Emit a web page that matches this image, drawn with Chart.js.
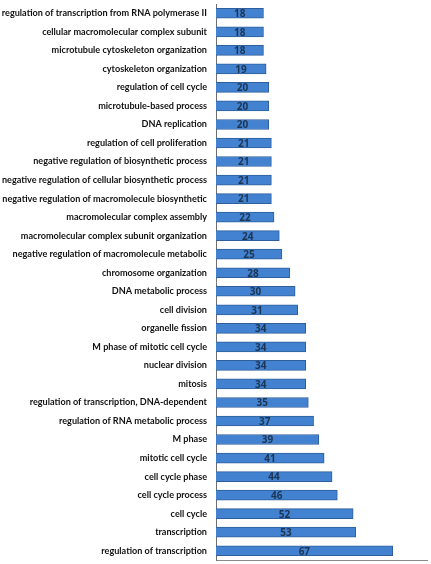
<!DOCTYPE html>
<html>
<head>
<meta charset="utf-8">
<script src="https://cdn.jsdelivr.net/npm/chart.js@4.4.0/dist/chart.umd.min.js"></script>
<style>
  html, body { margin: 0; padding: 0; background: #fff; }
  canvas { display: block; }
</style>
</head>
<body>
<canvas id="myChart" width="431" height="564"></canvas>
<script>
// GO terms, top to bottom
const terms = [
    "regulation of transcription from RNA polymerase II",
    "cellular macromolecular complex subunit",
    "microtubule cytoskeleton organization",
    "cytoskeleton organization",
    "regulation of cell cycle",
    "microtubule-based process",
    "DNA replication",
    "regulation of cell proliferation",
    "negative regulation of biosynthetic process",
    "negative regulation of cellular biosynthetic process",
    "negative regulation of macromolecule biosynthetic",
    "macromolecular complex assembly",
    "macromolecular complex subunit organization",
    "negative regulation of macromolecule metabolic",
    "chromosome organization",
    "DNA metabolic process",
    "cell division",
    "organelle fission",
    "M phase of mitotic cell cycle",
    "nuclear division",
    "mitosis",
    "regulation of transcription, DNA-dependent",
    "regulation of RNA metabolic process",
    "M phase",
    "mitotic cell cycle",
    "cell cycle phase",
    "cell cycle process",
    "cell cycle",
    "transcription",
    "regulation of transcription"
];

// gene counts
const counts = [18, 18, 18, 19, 20, 20, 20, 21, 21, 21, 21, 22, 24, 25, 28,
    30, 31, 34, 34, 34, 34, 35, 37, 39, 41, 44, 46, 52, 53, 67];

const xMax = 80;

// draw the count in the middle of each bar
const barValues = {
    id: "barValues",
    afterDatasetsDraw(chart) {
        const ctx = chart.ctx;
        const meta = chart.getDatasetMeta(0);
        ctx.save();
        ctx.font = "bold 10px 'Open Sans', sans-serif";
        ctx.fillStyle = "#1c3553";
        ctx.textAlign = "center";
        ctx.textBaseline = "middle";
        meta.data.forEach(function (bar, i) {
            const mid = (bar.x + bar.base) / 2;
            ctx.fillText(counts[i], mid, bar.y + 1);
        });
        ctx.restore();
    }
};

const config = {
    type: "bar",
    data: {
        labels: terms,
        datasets: [
            {
                label: "genes",
                data: counts,
                backgroundColor: "#4282d0",
                borderColor: "#2f5f9a",
                borderWidth: 1,
                borderSkipped: "left",
                barThickness: 10
            }
        ]
    },
    options: {
        indexAxis: "y",
        responsive: false,
        animation: false,
        layout: { padding: { top: 0, right: 4, bottom: 0, left: 0 } },
        plugins: {
            legend: { display: false },
            tooltip: { enabled: false }
        },
        scales: {
            x: {
                min: 0,
                max: xMax,
                grid: { display: false, drawTicks: false },
                border: { display: true, color: "#8a8a8a", width: 1 },
                ticks: { display: false },
                afterFit: function (scale) { scale.height = 0; }
            },
            y: {
                grid: { display: false, drawTicks: false },
                border: { display: true, color: "#6f6f6f", width: 1 },
                ticks: {
                    padding: 9,
                    color: "#111111",
                    autoSkip: false,
                    font: { family: "Lato", size: 9.1, weight: "bold" }
                },
                afterFit: function (scale) {
                    scale.width = 216;
                    scale.paddingTop = 4;
                    scale.paddingBottom = 4;
                }
            }
        }
    },
    plugins: [barValues]
};

var myChart = new Chart(document.getElementById("myChart"), config);
</script>
</body>
</html>
